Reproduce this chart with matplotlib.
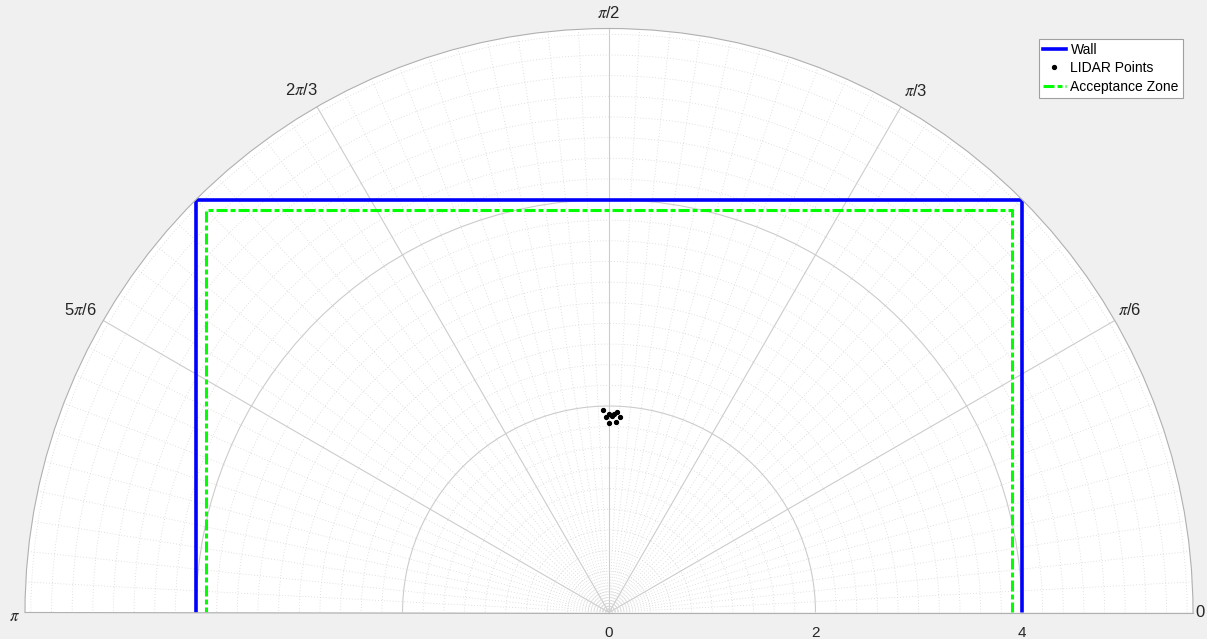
import numpy as np
import matplotlib
matplotlib.use("Agg")
import matplotlib.pyplot as plt
from matplotlib.transforms import offset_copy

plt.rcParams['font.family'] = ['Liberation Sans', 'DejaVu Sans']
plt.rcParams['mathtext.fontset'] = 'stix'

# ------------------------
# Data
# ------------------------

# wall corners (x, y in metres)
wall_x = [4.0, 4.0, -4.0, -4.0]
wall_y = [0.0, 4.0, 4.0, 0.0]

# acceptance zone corners
zone_x = [3.9, 3.9, -3.9, -3.9]
zone_y = [0.0, 3.9, 3.9, 0.0]

# lidar returns: bearing (deg) and range (m)
lidar_theta_deg = [91.6, 90.9, 89.9, 89.2, 88.6, 87.6, 86.8, 90.1, 87.9]
lidar_range = [1.964, 1.898, 1.924, 1.908, 1.925, 1.948, 1.901, 1.833, 1.851]

theta_ticks_deg = [0, 30, 60, 90, 120, 150, 180]
theta_tick_labels = ['0', r'$\pi$/6', r'$\pi$/3', r'$\pi$/2', r'2$\pi$/3', r'5$\pi$/6', r'$\pi$']
r_ticks = [0, 2, 4]
r_max = 4 * np.sqrt(2)


def to_polar(x, y):
    x = np.asarray(x)
    y = np.asarray(y)
    return np.arctan2(y, x), np.hypot(x, y)


# ------------------------
# Figure
# ------------------------

W, H = 1207, 639
fig = plt.figure(figsize=(W / 100, H / 100), dpi=100, facecolor='#f0f0f0')
# the half disc is centred inside a square box, so the box overhangs the figure
side = 1168
ax = fig.add_axes([25 / W, (26.5 - side / 4) / H, side / W, side / H], projection='polar')
ax.set_facecolor('white')
ax.set_thetamin(0)
ax.set_thetamax(180)
ax.set_rlim(0, r_max)

# grid: majors every 30 deg / 2 m, minors every 3 deg / 0.2 m
ax.set_xticks(np.deg2rad(theta_ticks_deg))
ax.set_xticklabels([])
ax.set_xticks(np.deg2rad(np.arange(0, 181, 3)), minor=True)
ax.set_yticks(r_ticks)
ax.set_yticklabels([])
ax.set_yticks(np.arange(0, r_max, 0.2), minor=True)
ax.tick_params(which='both', length=0)
ax.grid(which='major', color='#cccccc', linewidth=0.8, linestyle='-')
ax.grid(which='minor', color='#d6d6d6', linewidth=0.6, linestyle=(0, (1, 2.5)))
for spine in ax.spines.values():
    spine.set_color('#b0b0b0')
    spine.set_linewidth(0.8)

# angle labels just outside the rim (pixel nudges per label, y up)
theta_label_nudge = [(7, 0), (15, 10.5), (15, 16), (0, 15.5), (-16, 16.5), (-23, 10.5), (-11, -4)]
for deg, text, (dx, dy) in zip(theta_ticks_deg, theta_tick_labels, theta_label_nudge):
    tf = offset_copy(ax.transData, fig=fig, x=dx, y=dy, units='dots')
    ax.text(np.deg2rad(deg), r_max, text, transform=tf, ha='center', va='center',
            fontsize=12, color='#262626', clip_on=False)

# radial labels sit under the baseline
label_tf = offset_copy(ax.transData, fig=fig, x=0, y=-10, units='points')
for r in r_ticks:
    ax.text(0, r, f"{r:g}", transform=label_tf, ha='center', va='top',
            fontsize=11, color='#262626')

wt, wr = to_polar(wall_x, wall_y)
zt, zr = to_polar(zone_x, zone_y)
line_wall, = ax.plot(wt, wr, color='#0000ff', linewidth=2.6, label='Wall',
                     solid_joinstyle='round')
pts, = ax.plot(np.deg2rad(lidar_theta_deg), lidar_range, linestyle='none',
               marker='o', markersize=2.8, color='black', label='LIDAR Points')
line_zone, = ax.plot(zt, zr, color='#00ff00', linewidth=2.2, linestyle='-.',
                     label='Acceptance Zone', dashes=(3.6, 1, 1.6, 1))

leg = fig.legend(handles=[line_wall, pts, line_zone], loc='upper right',
                 bbox_to_anchor=(1183 / W, 1 - 39 / H), borderaxespad=0,
                 fontsize=10, fancybox=False, framealpha=1, edgecolor='#a0a0a0',
                 handlelength=1.7, handletextpad=0.3, borderpad=0.3,
                 labelspacing=0.3)
leg.get_frame().set_linewidth(0.8)

fig.savefig('out.png', dpi=100, facecolor=fig.get_facecolor())
